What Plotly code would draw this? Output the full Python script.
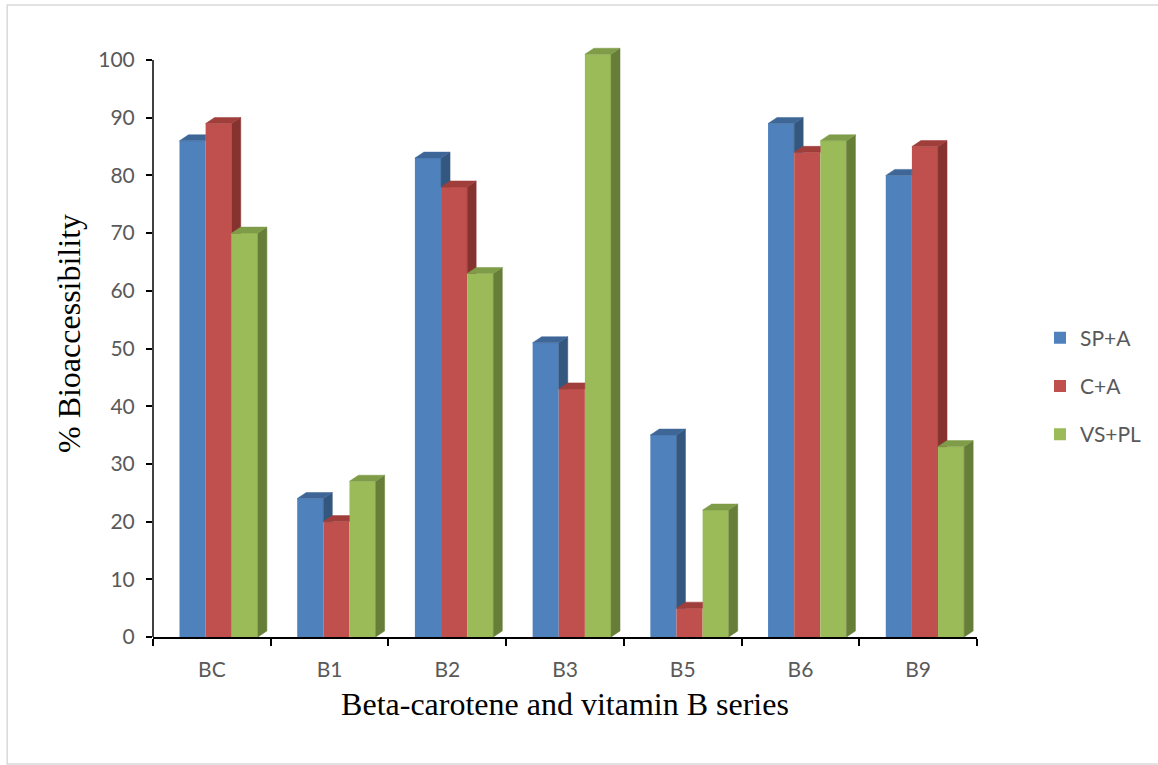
import plotly.graph_objects as go

# Bioaccessibility (%) of beta-carotene and B vitamins
categories = ["BC", "B1", "B2", "B3", "B5", "B6", "B9"]
series_names = ["SP+A", "C+A", "VS+PL"]
sp_a = [86, 24, 83, 51, 35, 89, 80]
c_a = [89, 20, 78, 43, 5, 84, 85]
vs_pl = [70, 27, 63, 101, 22, 86, 33]
y_ticks = list(range(0, 101, 10))

series_values = [sp_a, c_a, vs_pl]
front_colors = ["#4F81BD", "#C0504D", "#9BBB59"]
top_colors = ["#3E6798", "#A03E3B", "#7F9C48"]
side_colors = ["#34577F", "#86322F", "#667E38"]

# layout geometry (pixels)
W, H = 1158, 765
M_L, M_R, M_T, M_B = 153, 180, 30, 128
PX_PER_UNIT = 5.77
plot_w = W - M_L - M_R
plot_h = H - M_T - M_B
y_max = plot_h / PX_PER_UNIT
px_per_cat = plot_w / len(categories)

# bar placement inside each category (category units)
offsets = [-0.164, 0.058, 0.280]
bar_w = 0.222
depth_x = 9 / px_per_cat          # 3D depth, horizontal part
depth_y = 6 / PX_PER_UNIT         # 3D depth, vertical part

fig = go.Figure()

# front faces
for k, (name, vals) in enumerate(zip(series_names, series_values)):
    fig.add_trace(go.Bar(
        x=[i + offsets[k] for i in range(len(categories))],
        y=vals,
        width=bar_w,
        name=name,
        marker=dict(color=front_colors[k], line=dict(width=0)),
        legendgroup=name,
        hoverinfo="skip",
    ))

# side and top faces; faces hidden behind the next bar of the group are trimmed
for k, vals in enumerate(series_values):
    nxt = series_values[k + 1] if k + 1 < len(series_values) else None
    sx, sy, tx, ty = [], [], [], []
    for i, v in enumerate(vals):
        x0 = i + offsets[k] - bar_w / 2
        x1 = i + offsets[k] + bar_w / 2
        vn = nxt[i] if nxt is not None else None
        # side face
        if vn is None:
            sx += [x1, x1 + depth_x, x1 + depth_x, x1, x1, None]
            sy += [0, depth_y, v + depth_y, v, 0, None]
        elif v > vn:
            sx += [x1, x1 + depth_x, x1 + depth_x, x1, x1, None]
            sy += [vn, vn, v + depth_y, v, vn, None]
        # top face
        if vn is not None and v < vn:
            tx += [x0, x0 + depth_x, x1, x1, x0, None]
            ty += [v, v + depth_y, v + depth_y, v, v, None]
        else:
            tx += [x0, x0 + depth_x, x1 + depth_x, x1, x0, None]
            ty += [v, v + depth_y, v + depth_y, v, v, None]
    if sx:
        fig.add_trace(go.Scatter(
            x=sx, y=sy, mode="lines", fill="toself",
            fillcolor=side_colors[k], line=dict(width=0.5, color=side_colors[k]),
            showlegend=False, hoverinfo="skip",
        ))
    fig.add_trace(go.Scatter(
        x=tx, y=ty, mode="lines", fill="toself",
        fillcolor=top_colors[k], line=dict(width=0.5, color=top_colors[k]),
        showlegend=False, hoverinfo="skip",
    ))

tick_font = dict(family="Lato, Liberation Sans, sans-serif", size=21, color="#595959")
title_font = dict(family="Liberation Serif, Times New Roman, serif", size=32, color="#000000")


def px_to_paper_x(px):
    return (px - M_L) / plot_w


def px_to_paper_y(py):
    return (H - M_B - py) / plot_h


fig.update_layout(
    width=W, height=H,
    margin=dict(l=M_L, r=M_R, t=M_T, b=M_B, pad=0),
    paper_bgcolor="white", plot_bgcolor="white",
    barmode="overlay",
    showlegend=True,
    legend=dict(
        x=px_to_paper_x(1040), y=px_to_paper_y(386),
        xanchor="left", yanchor="middle",
        font=tick_font, tracegroupgap=18,
        bgcolor="rgba(0,0,0,0)",
    ),
    xaxis=dict(
        range=[-0.5, len(categories) - 0.5],
        tickmode="array", tickvals=list(range(len(categories))), ticktext=categories,
        ticks="", tickfont=tick_font, ticklabelstandoff=13,
        showline=True, linecolor="black", linewidth=1.5,
        showgrid=False, zeroline=False,
        minor=dict(tickmode="array",
                   tickvals=[i - 0.5 for i in range(len(categories) + 1)],
                   ticks="outside", ticklen=7, tickwidth=1.5, tickcolor="black",
                   showgrid=False),
        title=dict(text="Beta-carotene and vitamin B series", font=title_font, standoff=13),
    ),
    yaxis=dict(
        range=[0, y_max],
        tickmode="array", tickvals=y_ticks,
        ticks="outside", ticklen=6, tickwidth=1.5, tickcolor="black",
        tickfont=tick_font, ticklabelstandoff=7,
        showline=False, showgrid=False, zeroline=False,
        title=dict(text="% Bioaccessibility", font=title_font, standoff=8),
    ),
    shapes=[
        # value axis line up to 100
        dict(type="line", xref="paper", yref="y", x0=0, x1=0, y0=0, y1=y_ticks[-1],
             line=dict(color="black", width=1.5)),
        # chart frame
        dict(type="rect", xref="paper", yref="paper",
             x0=px_to_paper_x(7), x1=px_to_paper_x(W + 5),
             y0=px_to_paper_y(764), y1=px_to_paper_y(5),
             line=dict(color="#D9D9D9", width=1.5), fillcolor="rgba(0,0,0,0)", layer="below"),
    ],
)

fig.write_html("out.html")
